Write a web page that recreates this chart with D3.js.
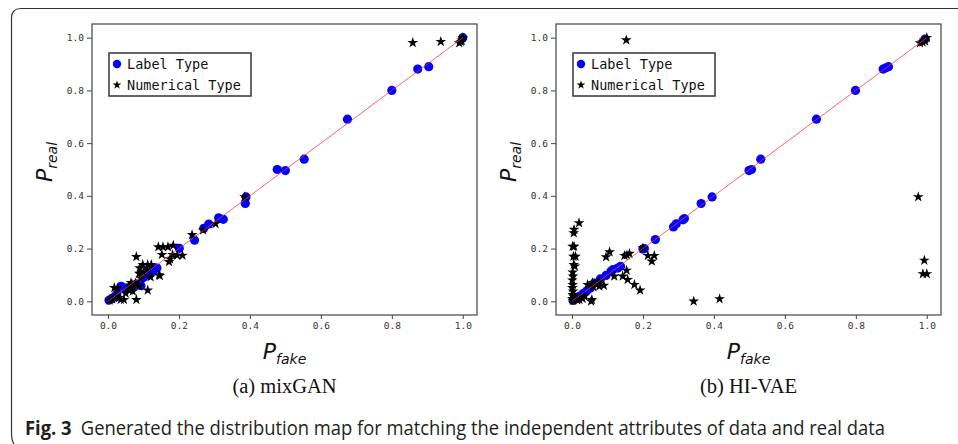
<!DOCTYPE html>
<html>
<head>
<meta charset="utf-8">
<script src="https://cdn.jsdelivr.net/npm/d3@7"></script>
<style>
  body { margin: 0; background: #fff; }
  svg { display: block; }
</style>
</head>
<body>
<div id="chart"></div>
<script>
// data: [Pfake, Preal]
var mixLabel = [[0.003,0.004],[0.010,0.010],[0.018,0.016],[0.025,0.028],[0.037,0.057],[0.046,0.050],
  [0.055,0.051],[0.069,0.057],[0.080,0.065],[0.093,0.059],[0.100,0.090],[0.112,0.100],[0.119,0.107],
  [0.127,0.117],[0.138,0.126],[0.201,0.201],[0.244,0.232],[0.270,0.277],[0.284,0.293],[0.312,0.317],
  [0.325,0.311],[0.387,0.371],[0.389,0.396],[0.477,0.500],[0.500,0.496],[0.553,0.539],[0.675,0.691],
  [0.800,0.800],[0.873,0.881],[0.904,0.890],[1.000,1.000]];
var mixNum = [[0.859,0.981],[0.938,0.985],[0.990,0.980],[0.995,0.985],[1.000,1.000],[0.997,0.990],
  [0.385,0.396],[0.303,0.294],[0.268,0.270],[0.237,0.252],
  [0.142,0.206],[0.155,0.206],[0.169,0.206],[0.184,0.212],[0.152,0.177],[0.182,0.177],[0.195,0.174],
  [0.210,0.174],[0.172,0.150],[0.175,0.160],[0.080,0.169],[0.089,0.126],[0.098,0.139],[0.112,0.139],
  [0.122,0.139],[0.110,0.120],[0.088,0.105],[0.092,0.088],[0.120,0.092],[0.144,0.100],[0.146,0.097],
  [0.078,0.069],[0.070,0.063],[0.088,0.057],[0.112,0.042],[0.061,0.042],[0.070,0.038],[0.080,0.006],
  [0.027,0.050],[0.018,0.051],[0.022,0.019],[0.036,0.006],[0.045,0.006],[0.031,0.013],[0.005,0.004],
  [0.012,0.008],[0.050,0.030],[0.060,0.055],[0.100,0.110],[0.065,0.070]];
var vaeLabel = [[0.003,0.003],[0.012,0.012],[0.022,0.020],[0.032,0.030],[0.042,0.040],[0.052,0.050],
  [0.063,0.069],[0.080,0.085],[0.096,0.098],[0.110,0.114],[0.115,0.120],[0.129,0.126],[0.137,0.133],
  [0.200,0.198],[0.204,0.200],[0.235,0.234],[0.286,0.282],[0.294,0.294],[0.313,0.309],[0.317,0.314],
  [0.364,0.371],[0.395,0.396],[0.499,0.496],[0.506,0.500],[0.532,0.539],[0.689,0.691],[0.799,0.800],
  [0.877,0.881],[0.885,0.886],[0.892,0.890],[0.995,0.995]];
var vaeNum = [[0.153,0.991],[0.981,0.980],[0.988,0.983],[0.995,0.987],[1.000,1.000],
  [0.976,0.396],[0.993,0.155],[0.989,0.104],[1.000,0.104],[0.343,0.000],[0.416,0.009],
  [0.192,0.042],[0.176,0.063],[0.157,0.082],[0.143,0.095],[0.154,0.117],[0.119,0.095],
  [0.148,0.173],[0.162,0.181],[0.155,0.175],[0.096,0.168],[0.106,0.187],
  [0.200,0.202],[0.214,0.173],[0.232,0.173],[0.225,0.152],
  [0.020,0.297],[0.006,0.272],[0.005,0.259],[0.002,0.208],[0.006,0.208],[0.004,0.170],[0.010,0.170],
  [0.005,0.139],[0.008,0.133],[0.002,0.110],[0.003,0.095],[0.001,0.080],[0.002,0.063],[0.001,0.051],
  [0.003,0.038],[0.002,0.025],[0.004,0.019],[0.001,0.010],[0.003,0.003],
  [0.058,0.070],[0.077,0.076],[0.044,0.063],[0.054,0.000],[0.035,0.019],[0.021,0.006],[0.030,0.010],
  [0.015,0.005],[0.060,0.055],[0.090,0.060],[0.077,0.057],[0.056,0.006]];
var tickValues = [0, 0.2, 0.4, 0.6, 0.8, 1.0];
var legendLabels = ["Label Type", "Numerical Type"];
var panelTitles = ["(a) mixGAN", "(b) HI-VAE"];

var svg = d3.select("#chart").append("svg")
  .attr("width", 958).attr("height", 444);
svg.append("rect").attr("width", 958).attr("height", 444).attr("fill", "#fff");

// outer figure border (top + left, rounded corner)
svg.append("path")
  .attr("d", "M958,8.5 L21,8.5 Q11.5,8.5 11.5,18 L11.5,432 Q11.5,441 14,444")
  .attr("fill", "none").attr("stroke", "#333").attr("stroke-width", 1.2);

var star = d3.symbol().type(d3.symbolStar).size(36);

function panel(left, lab, num, title) {
  var fr = {x0: left, x1: left + 385, y0: 24, y1: 315};
  var x = d3.scaleLinear().domain([-0.045, 1.04]).range([fr.x0, fr.x1]);
  var y = d3.scaleLinear().domain([-0.052, 1.052]).range([fr.y1, fr.y0]);
  var g = svg.append("g");

  g.append("rect").attr("x", fr.x0).attr("y", fr.y0)
    .attr("width", fr.x1 - fr.x0).attr("height", fr.y1 - fr.y0)
    .attr("fill", "#fff").attr("stroke", "#444").attr("stroke-width", 1.2);

  var xa = g.append("g").attr("transform", "translate(0," + fr.y1 + ")")
    .call(d3.axisBottom(x).tickValues(tickValues).tickSize(4).tickPadding(3).tickFormat(d3.format(".1f")));
  var ya = g.append("g").attr("transform", "translate(" + fr.x0 + ",0)")
    .call(d3.axisLeft(y).tickValues(tickValues).tickSize(5).tickPadding(3).tickFormat(d3.format(".1f")));
  [xa, ya].forEach(function(a) {
    a.select(".domain").remove();
    a.selectAll("line").attr("stroke", "#444");
    a.selectAll("text").attr("fill", "#333")
      .style("font-family", "'DejaVu Sans Mono', monospace").style("font-size", "9.5px");
  });

  g.selectAll(".lab").data(lab).enter().append("circle")
    .attr("cx", function(d) { return x(d[0]); })
    .attr("cy", function(d) { return y(d[1]); })
    .attr("r", 4.6).attr("fill", "#0000ff");

  g.selectAll(".num").data(num).enter().append("path")
    .attr("d", star)
    .attr("transform", function(d) { return "translate(" + x(d[0]) + "," + y(d[1]) + ")"; })
    .attr("fill", "#000");

  g.append("line")
    .attr("x1", x(0)).attr("y1", y(0)).attr("x2", x(1)).attr("y2", y(1))
    .attr("stroke", "#ff3030").attr("stroke-opacity", 0.75).attr("stroke-width", 1);

  // legend
  var lg = g.append("g").attr("transform", "translate(" + (fr.x0 + 17) + ",53)");
  lg.append("rect").attr("width", 142).attr("height", 43)
    .attr("fill", "#fff").attr("stroke", "#333").attr("stroke-width", 1.5);
  lg.append("circle").attr("cx", 8).attr("cy", 11).attr("r", 4.2).attr("fill", "#0000ff");
  lg.append("path").attr("d", d3.symbol().type(d3.symbolStar).size(24))
    .attr("transform", "translate(8,32)").attr("fill", "#000");
  lg.selectAll(".lt").data(legendLabels).enter().append("text")
    .attr("x", 18).attr("y", function(d, i) { return 16 + i * 21; })
    .attr("fill", "#111")
    .style("font-family", "'DejaVu Sans Mono', monospace").style("font-size", "13.5px")
    .text(function(d) { return d; });

  // axis labels
  var cx = (fr.x0 + fr.x1) / 2;
  var xl = g.append("text").attr("x", cx).attr("y", 359).attr("text-anchor", "middle")
    .style("font-family", "'DejaVu Sans', sans-serif").style("font-style", "italic").attr("fill", "#111");
  xl.append("tspan").style("font-size", "22px").text("P");
  xl.append("tspan").style("font-size", "14px").attr("dy", 5).text("fake");

  var yl = g.append("text").attr("transform", "translate(" + (fr.x0 - 40) + ",162) rotate(-90)")
    .attr("text-anchor", "middle")
    .style("font-family", "'DejaVu Sans', sans-serif").style("font-style", "italic").attr("fill", "#111");
  yl.append("tspan").style("font-size", "22px").text("P");
  yl.append("tspan").style("font-size", "14px").attr("dy", 5).text("real");

  g.append("text").attr("x", cx).attr("y", 393).attr("text-anchor", "middle")
    .style("font-family", "'Liberation Serif', serif").style("font-size", "20.5px").attr("fill", "#111")
    .text(title);
}

panel(92, mixLabel, mixNum, panelTitles[0]);
panel(556, vaeLabel, vaeNum, panelTitles[1]);

// figure caption
var cap = svg.append("text").attr("x", 25).attr("y", 435)
  .attr("textLength", 860).attr("lengthAdjust", "spacingAndGlyphs")
  .style("font-family", "'Open Sans', sans-serif").style("font-size", "20px").attr("fill", "#231f20");
cap.append("tspan").style("font-weight", "bold").text("Fig. 3");
cap.append("tspan").text("\u2002Generated the distribution map for matching the independent attributes of data and real data");
</script>
</body>
</html>
